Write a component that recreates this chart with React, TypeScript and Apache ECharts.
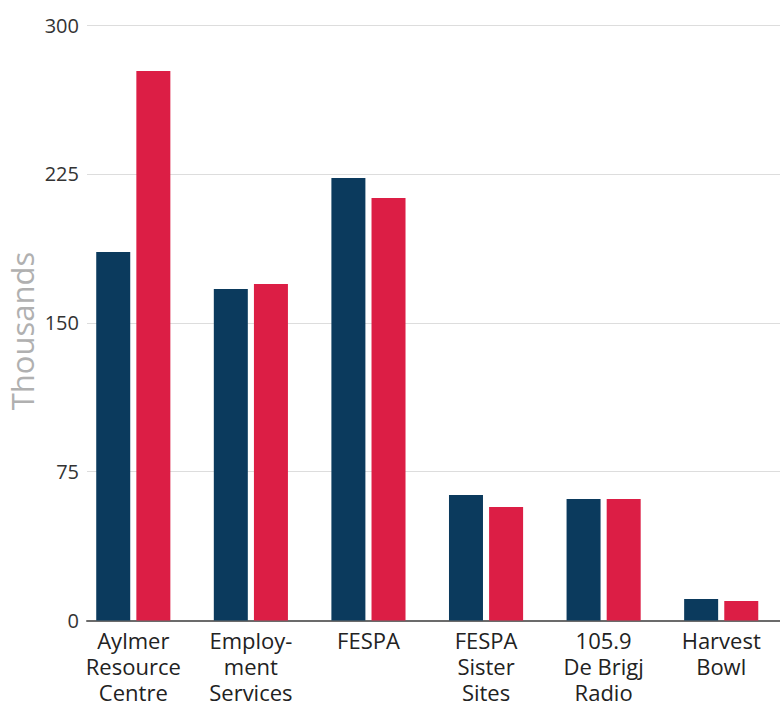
import React, { useEffect, useRef } from "react";
import * as echarts from "echarts";

const categories = [
  "Aylmer\nResource\nCentre",
  "Employ-\nment\nServices",
  "FESPA",
  "FESPA\nSister\nSites",
  "105.9\nDe Brigj\nRadio",
  "Harvest\nBowl",
];
const seriesA = [185.6, 167.0, 222.9, 63.2, 61.2, 10.8];
const seriesB = [276.8, 169.5, 212.8, 57.2, 61.2, 9.8];
const yTicks = { min: 0, max: 300, interval: 75 };

const NAVY = "#0B3A5D";
const RED = "#DC1E45";
const FONT = "'Open Sans', sans-serif";

export default function App() {
  const ref = useRef<HTMLDivElement>(null);
  useEffect(() => {
    document.body.style.margin = "0";
    if (!ref.current) return;
    const chart = echarts.init(ref.current, undefined, { renderer: "svg" });
    chart.setOption({
      animation: false,
      backgroundColor: "#ffffff",
      textStyle: { fontFamily: FONT },
      grid: [
        { left: 87, right: 0, top: 25, bottom: 86.5 },
        { left: 74.5, right: -3, top: 25, bottom: 86.5 },
      ],
      xAxis: [
        {
          type: "category",
          gridIndex: 0,
          data: categories,
          axisLine: { show: true, lineStyle: { color: "#6b6b6b", width: 2 } },
          axisTick: { show: false },
          axisLabel: { show: false },
          splitLine: { show: false },
        },
        {
          type: "category",
          gridIndex: 1,
          data: categories,
          axisLine: { show: false },
          axisTick: { show: false },
          axisLabel: {
            interval: 0,
            margin: 6,
            fontSize: 22,
            lineHeight: 26,
            color: "#222222",
            fontFamily: FONT,
          },
        },
      ],
      yAxis: [
        {
          type: "value",
          gridIndex: 0,
          min: yTicks.min,
          max: yTicks.max,
          interval: yTicks.interval,
          axisLine: { show: false },
          axisTick: { show: false },
          axisLabel: { fontSize: 20, color: "#333333", margin: 8, fontFamily: FONT },
          splitLine: { lineStyle: { color: "#dddddd", width: 1 } },
        },
        {
          type: "value",
          gridIndex: 1,
          min: yTicks.min,
          max: yTicks.max,
          interval: yTicks.interval,
          show: false,
          splitLine: { show: false },
        },
      ],
      graphic: [
        {
          type: "text",
          x: 22,
          y: 331,
          rotation: Math.PI / 2,
          style: {
            text: "Thousands",
            fontSize: 31,
            fontFamily: FONT,
            fill: "#b0b0b0",
            textAlign: "center",
            textVerticalAlign: "middle",
          },
        },
      ],
      series: [
        {
          type: "bar",
          xAxisIndex: 1,
          yAxisIndex: 1,
          data: seriesA,
          barWidth: 34,
          barGap: "18%",
          itemStyle: { color: NAVY },
        },
        {
          type: "bar",
          xAxisIndex: 1,
          yAxisIndex: 1,
          data: seriesB,
          barWidth: 34,
          barGap: "18%",
          itemStyle: { color: RED },
        },
      ],
    });
    return () => chart.dispose();
  }, []);
  return <div ref={ref} style={{ width: 780, height: 707 }} />;
}
